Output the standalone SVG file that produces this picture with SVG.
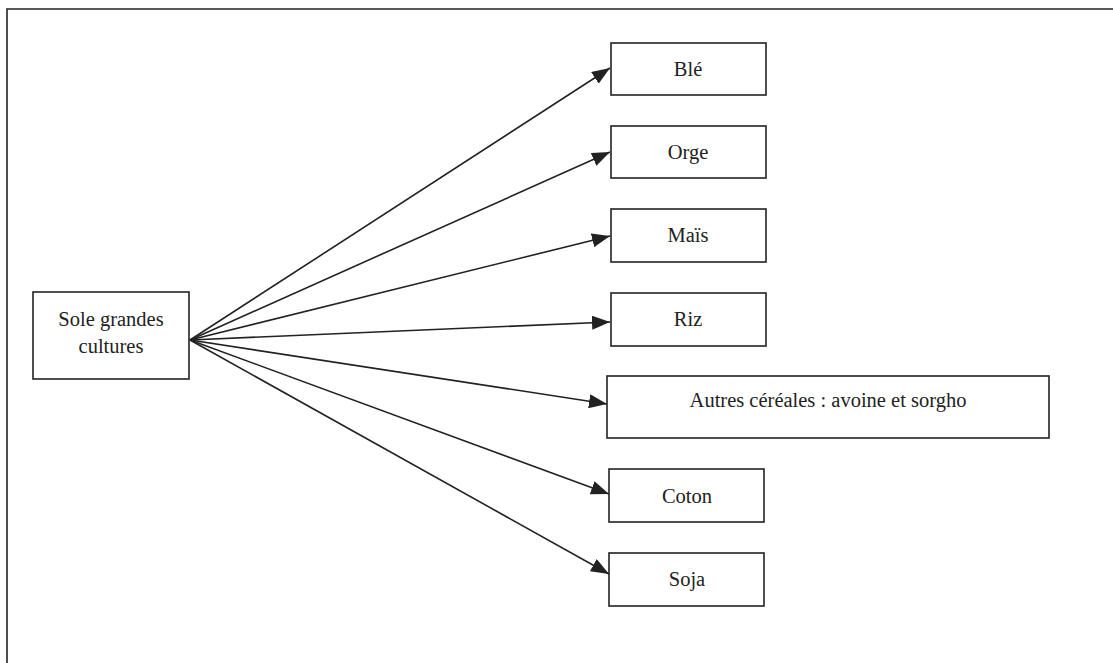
<svg xmlns="http://www.w3.org/2000/svg" width="1113" height="663" viewBox="0 0 1113 663">
<style>
.box{fill:#fff;stroke:#222;stroke-width:1.6}
.lbl{font-family:"Liberation Serif","Times New Roman",serif;font-size:20.5px;fill:#222;text-anchor:middle}
.edge{stroke:#222;stroke-width:1.6;fill:none;marker-end:url(#arr)}
.frame{stroke:#222;stroke-width:1.6;fill:none}
</style>
<defs>
<marker id="arr" markerWidth="18" markerHeight="14" refX="18" refY="7" orient="auto" markerUnits="userSpaceOnUse">
<path d="M0,0 L18,7 L0,14 Z" fill="#222"/>
</marker>
</defs>
<rect width="1113" height="663" fill="#fff"/>
<path class="frame" d="M7,663 L7,9 L1113,9"/>
<g id="connectors">
<line class="edge" x1="190" y1="340" x2="610" y2="68"/>
<line class="edge" x1="190" y1="340" x2="610" y2="152"/>
<line class="edge" x1="190" y1="340" x2="610" y2="236"/>
<line class="edge" x1="190" y1="340" x2="610" y2="322"/>
<line class="edge" x1="190" y1="340" x2="607" y2="404"/>
<line class="edge" x1="190" y1="340" x2="609" y2="494"/>
<line class="edge" x1="190" y1="340" x2="609" y2="574"/>
</g>
<g id="node-sole">
<rect class="box" x="33" y="292" width="156" height="87"/>
<text class="lbl" x="111" y="326">Sole grandes</text>
<text class="lbl" x="111" y="353">cultures</text>
</g>
<g id="node-ble">
<rect class="box" x="611" y="43" width="155" height="52"/>
<text class="lbl" x="688" y="76">Blé</text>
</g>
<g id="node-orge">
<rect class="box" x="611" y="126" width="155" height="52"/>
<text class="lbl" x="688" y="159">Orge</text>
</g>
<g id="node-mais">
<rect class="box" x="611" y="209" width="155" height="53"/>
<text class="lbl" x="688" y="242">Maïs</text>
</g>
<g id="node-riz">
<rect class="box" x="611" y="293" width="155" height="53"/>
<text class="lbl" x="688" y="326">Riz</text>
</g>
<g id="node-autres">
<rect class="box" x="607" y="376" width="442" height="62"/>
<text class="lbl" x="828" y="407">Autres céréales : avoine et sorgho</text>
</g>
<g id="node-coton">
<rect class="box" x="609" y="469" width="155" height="53"/>
<text class="lbl" x="687" y="503">Coton</text>
</g>
<g id="node-soja">
<rect class="box" x="609" y="553" width="155" height="53"/>
<text class="lbl" x="687" y="586">Soja</text>
</g>
</svg>
